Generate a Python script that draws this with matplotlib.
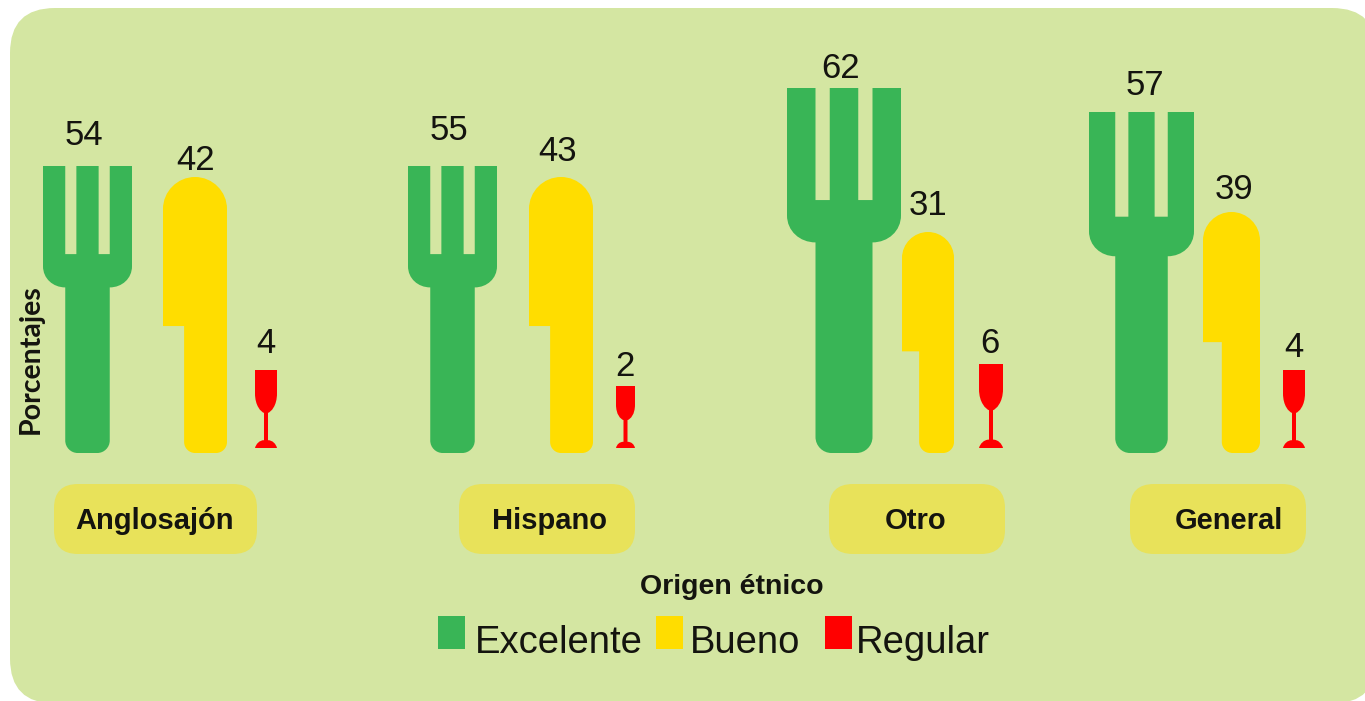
import matplotlib
matplotlib.use("Agg")
import matplotlib.pyplot as plt
from matplotlib.path import Path
from matplotlib.patches import PathPatch, FancyBboxPatch, Rectangle

categorias = ["Anglosajón", "Hispano", "Otro", "General"]
excelente = [54, 55, 62, 57]
bueno = [42, 43, 31, 39]
regular = [4, 2, 6, 4]

# the icons in the source are not to scale, so sizes are read off separately
fork_x = [43, 408, 787, 1089]
fork_w = [89, 89, 114, 105]
fork_h = [287, 287, 365, 341]
knife_x = [163, 529, 902, 1203]
knife_w = [64, 64, 52, 57]
knife_h = [276, 276, 221, 241]
glass_x = [255, 616, 979, 1283]
glass_w = [22, 19, 24, 22]
glass_h = [78, 62, 84, 78]

pill_x = [54, 459, 829, 1130]
pill_w = [203, 176, 176, 176]
pill_text_x = [155, 550, 916, 1229]

fork_lab = [(84, 132), (449, 127), (841, 65), (1145, 82)]
knife_lab = [(196, 157), (558, 148), (928, 202), (1234, 186)]
glass_lab = [(266, 340), (625, 363), (990, 340), (1294, 344)]

GREEN = "#39B556"
YELLOW = "#FFDD00"
RED = "#FF0000"
BG = "#D4E6A2"
PILL = "#E8E25A"
TXT = "#14140F"
BASE = 453
GLASS_BASE = 448

plt.rcParams["font.family"] = ["Liberation Sans", "DejaVu Sans"]


def draw_path(ax, verts, codes, color):
    ax.add_patch(PathPatch(Path(verts, codes), fc=color, ec="none", lw=0))


def fork(ax, x, w, h):
    top = BASE - h
    r = x + w
    tine = w * 0.25
    gap = (w - 3 * tine) / 2
    hl = x + tine
    hr = r - tine
    tb = top + h * 0.307
    sb = top + h * 0.423
    sm = sb - tine * 0.95
    k = tine * 0.55
    rad = w * 0.14
    M, L, C = Path.MOVETO, Path.LINETO, Path.CURVE4
    v = [(x, top), (x + tine, top), (x + tine, tb), (x + tine + gap, tb),
         (x + tine + gap, top), (r - tine - gap, top), (r - tine - gap, tb),
         (r - tine, tb), (r - tine, top), (r, top), (r, sm),
         (r, sm + k), (hr + k, sb), (hr, sb),
         (hr, BASE - rad), (hr, BASE - rad * 0.45), (hr - rad * 0.45, BASE), (hr - rad, BASE),
         (hl + rad, BASE), (hl + rad * 0.45, BASE), (hl, BASE - rad * 0.45), (hl, BASE - rad),
         (hl, sb), (hl - k, sb), (x, sm + k), (x, sm), (x, top)]
    c = [M, L, L, L, L, L, L, L, L, L, L, C, C, C, L, C, C, C, L, C, C, C, L, C, C, C, Path.CLOSEPOLY]
    draw_path(ax, v, c, GREEN)


def knife(ax, x, w, h):
    top = BASE - h
    r = x + w
    rad = w / 2
    notch = x + w * 0.33
    blade = top + h * 0.54
    cr = 11
    M, L, C = Path.MOVETO, Path.LINETO, Path.CURVE4
    k = rad * 0.55
    q = cr * 0.45
    v = [(x, blade), (x, top + rad), (x, top + rad - k), (x + rad - k, top), (x + rad, top),
         (x + rad + k, top), (r, top + rad - k), (r, top + rad),
         (r, BASE - cr), (r, BASE - q), (r - q, BASE), (r - cr, BASE),
         (notch + cr, BASE), (notch + q, BASE), (notch, BASE - q), (notch, BASE - cr),
         (notch, blade), (x, blade)]
    c = [M, L, C, C, C, C, C, C, L, C, C, C, L, C, C, C, L, Path.CLOSEPOLY]
    draw_path(ax, v, c, YELLOW)


def glass(ax, x, w, h):
    top = GLASS_BASE - h
    r = x + w
    mid = x + w / 2
    sw = 2
    bowl = top + h * 0.55
    foot = GLASS_BASE - h * 0.1
    M, L, C = Path.MOVETO, Path.LINETO, Path.CURVE4
    v = [(x, top), (r, top), (r, top + h * 0.3), (r, top + h * 0.46), (mid + sw + 3, bowl - 1), (mid + sw, bowl),
         (mid + sw, foot), (mid + w * 0.3, foot), (r - 1, GLASS_BASE - 4), (r, GLASS_BASE),
         (x, GLASS_BASE), (x + 1, GLASS_BASE - 4), (mid - w * 0.3, foot), (mid - sw, foot),
         (mid - sw, bowl), (mid - sw - 3, bowl - 1), (x, top + h * 0.46), (x, top + h * 0.3), (x, top), (x, top)]
    c = [M, L, L, C, C, C, L, C, C, C, L, C, C, C, L, C, C, C, L, Path.CLOSEPOLY]
    draw_path(ax, v, c, RED)


fig = plt.figure(figsize=(13.65, 7.01), dpi=100, facecolor="white")
ax = fig.add_axes([0, 0, 1, 1])
ax.set_xlim(0, 1365)
ax.set_ylim(701, 0)
ax.axis("off")

# panel runs a little past the right and bottom edges of the image
ax.add_patch(FancyBboxPatch((55, 53), 1277, 605.5, boxstyle="round,pad=45,rounding_size=45",
                            fc=BG, ec="none", clip_on=True))

for i in range(len(categorias)):
    fork(ax, fork_x[i], fork_w[i], fork_h[i])
    knife(ax, knife_x[i], knife_w[i], knife_h[i])
    glass(ax, glass_x[i], glass_w[i], glass_h[i])

    for lab, val in ((fork_lab[i], excelente[i]), (knife_lab[i], bueno[i]), (glass_lab[i], regular[i])):
        ax.text(lab[0], lab[1], str(val), fontsize=25, color=TXT, ha="center", va="center_baseline")

    ax.add_patch(FancyBboxPatch((pill_x[i] + 24, 508), pill_w[i] - 48, 22,
                                boxstyle="round,pad=24,rounding_size=24", fc=PILL, ec="none"))
    ax.text(pill_text_x[i], 518, categorias[i], fontsize=21, fontweight="bold", color=TXT,
            ha="center", va="center_baseline")

ax.text(31, 359, "Porcentajes", family="Lato", fontsize=20.5, fontweight="bold", color=TXT,
        rotation=90, ha="center", va="center")
ax.text(732, 584, "Origen étnico", fontsize=20.5, fontweight="bold", color=TXT,
        ha="center", va="center_baseline")

ley_x = [438, 656, 825]
ley_text_x = [475, 690, 856]
ley_nombres = ["Excelente", "Bueno", "Regular"]
ley_col = [GREEN, YELLOW, RED]
for x, tx, nom, col in zip(ley_x, ley_text_x, ley_nombres, ley_col):
    ax.add_patch(Rectangle((x, 616), 27, 33, fc=col, ec="none"))
    ax.text(tx, 639, nom, fontsize=27.5, color=TXT, ha="left", va="center_baseline")

fig.savefig("out.png", dpi=100, facecolor="white")
